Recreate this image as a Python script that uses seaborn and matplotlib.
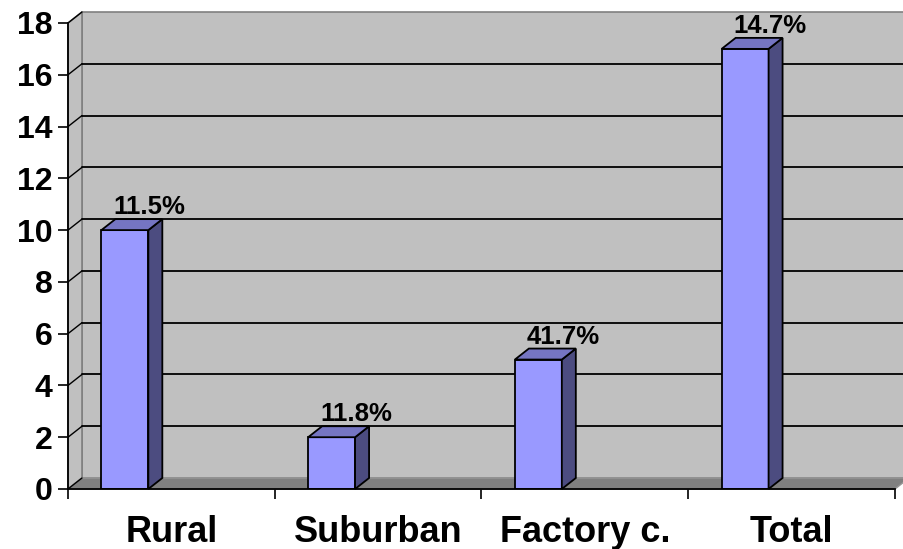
import numpy as np
import matplotlib
matplotlib.use("Agg")
import matplotlib.pyplot as plt
import seaborn as sns
from matplotlib.patches import Polygon

# chart data
categories = ["Rural", "Suburban", "Factory c.", "Total"]
values = [10, 2, 5, 17]
bar_labels = ["11.5%", "11.8%", "41.7%", "14.7%"]
y_ticks = [0, 2, 4, 6, 8, 10, 12, 14, 16, 18]

sns.set_style("white")
plt.rcParams["font.family"] = ["Liberation Sans", "DejaVu Sans"]
plt.rcParams["font.weight"] = "bold"
for key in ["text.color", "xtick.color", "ytick.color", "axes.labelcolor"]:
    plt.rcParams[key] = "black"

fig = plt.figure(figsize=(9.04, 5.49), dpi=100)
ax = fig.add_axes([68 / 904, 60 / 549, 827 / 904, 466 / 549])
ax.patch.set_alpha(0)

x0, x1 = -0.275, 3.725
ax.set_xlim(x0, x1)
ax.set_ylim(0, 18)

# 3d depth offset in pixels -> data units
p0 = ax.transData.transform((0, 0))
ddx, ddy = ax.transData.inverted().transform(p0 + np.array([14, 11]))

# back wall, side wall and floor
ax.add_patch(Polygon([(x0 + ddx, ddy), (x1 + ddx, ddy), (x1 + ddx, 18 + ddy), (x0 + ddx, 18 + ddy)],
                     closed=True, facecolor="#c0c0c0", edgecolor="#808080", lw=1.2, zorder=0.5, clip_on=False))
ax.add_patch(Polygon([(x0, 0), (x0, 18), (x0 + ddx, 18 + ddy), (x0 + ddx, ddy)],
                     closed=True, facecolor="#c0c0c0", edgecolor="#808080", lw=1.2, zorder=0.6, clip_on=False))
ax.add_patch(Polygon([(x0, 0), (x1, 0), (x1 + ddx, ddy), (x0 + ddx, ddy)],
                     closed=True, facecolor="#808080", edgecolor="#969696", lw=1.0, zorder=0.7, clip_on=False))

# gridlines on back wall and side wall
for v in y_ticks:
    if 0 < v < 18:
        ax.plot([x0 + ddx, x1 + ddx], [v + ddy, v + ddy], color="black", lw=1.3, zorder=1, clip_on=False)
    ax.plot([x0, x0 + ddx], [v, v + ddy], color="black", lw=1.0, zorder=1, clip_on=False)

# front faces
sns.barplot(x=categories, y=values, color="#9999ff", edgecolor="black", linewidth=1.3,
            width=0.227, saturation=1, ax=ax, zorder=2)
ax.set_xlim(x0, x1)
ax.set_ylim(0, 18)

# side and top faces
for bar, lab in zip(ax.containers[0], bar_labels):
    left, w, h = bar.get_x(), bar.get_width(), bar.get_height()
    right = left + w
    ax.add_patch(Polygon([(right, 0), (right, h), (right + ddx, h + ddy), (right + ddx, ddy)],
                         closed=True, facecolor="#4c4c80", edgecolor="black", lw=1.3, zorder=2, clip_on=False))
    ax.add_patch(Polygon([(left, h), (right, h), (right + ddx, h + ddy), (left + ddx, h + ddy)],
                         closed=True, facecolor="#7575c2", edgecolor="black", lw=1.3, zorder=2, clip_on=False))
    ax.annotate(lab, (left + w / 2 + 0.12, h + ddy), xytext=(0, 0), textcoords="offset points",
                ha="center", va="bottom", fontsize=18.5, fontweight="bold", zorder=5, annotation_clip=False)

# axes
sns.despine(ax=ax, top=True, right=True)
for s in ["left", "bottom"]:
    ax.spines[s].set_color("black")
    ax.spines[s].set_linewidth(1.3)
ax.set_yticks(y_ticks)
ax.set_yticklabels([str(t) for t in y_ticks], fontsize=23, fontweight="bold")
ax.tick_params(axis="y", length=7, width=1.2, direction="out", pad=4, left=True)
ax.set_xticks([i + 0.225 for i in range(len(categories))])
ax.set_xticklabels(categories, fontsize=26, fontweight="bold")
ax.set_xticks([x0 + k for k in range(len(categories) + 1)], minor=True)
ax.tick_params(axis="x", which="major", length=0, pad=19)
ax.tick_params(axis="x", which="minor", length=7, width=1.2, direction="out", bottom=True)
ax.set_xlabel("")
ax.set_ylabel("")

fig.savefig("out.png", dpi=100)
